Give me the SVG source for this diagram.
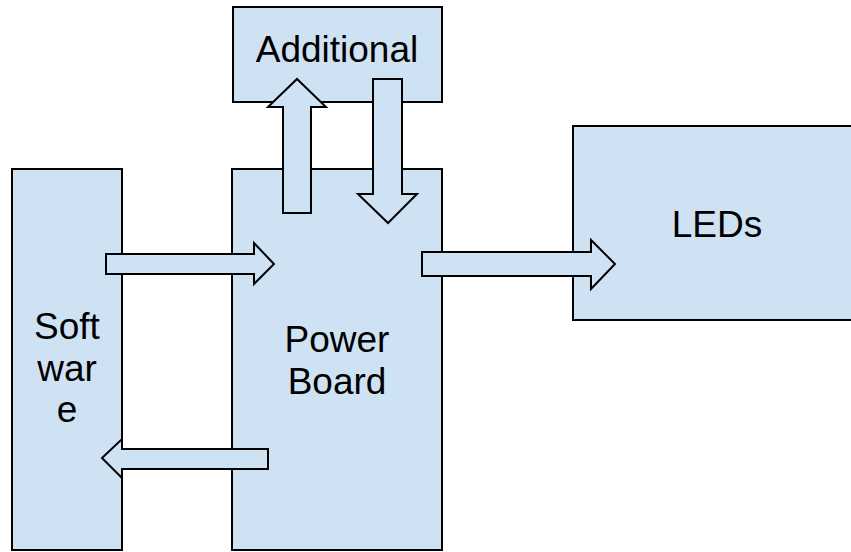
<svg xmlns="http://www.w3.org/2000/svg" width="851" height="552" viewBox="0 0 851 552">
<style>
.box{fill:#cfe2f3;stroke:#000;stroke-width:2}
.arr{fill:#cfe2f3;stroke:#000;stroke-width:2;stroke-linejoin:miter}
.lbl{font-family:"Liberation Sans",Arial,sans-serif;font-size:37px;fill:#000;text-anchor:middle}
</style>
<rect width="851" height="552" fill="#fff"/>
<g id="software">
<rect class="box" x="12" y="169" width="110" height="381"/>
<text class="lbl" x="67" y="339">Soft</text>
<text class="lbl" x="67" y="381">war</text>
<text class="lbl" x="67" y="422">e</text>
</g>
<g id="power-board">
<rect class="box" x="232" y="169" width="210" height="381"/>
<text class="lbl" x="337" y="352">Power</text>
<text class="lbl" x="337" y="394">Board</text>
</g>
<g id="additional">
<rect class="box" x="233" y="7" width="209" height="95"/>
<text class="lbl" x="337" y="62">Additional</text>
</g>
<g id="leds">
<rect class="box" x="573" y="126" width="288" height="194"/>
<text class="lbl" x="717" y="237">LEDs</text>
</g>
<g id="connectors">
<polygon class="arr" points="106,254 254,254 254,243 274,264 254,284 254,274 106,274"/>
<polygon class="arr" points="422,252 591,252 591,240 615,264 591,289 591,276 422,276"/>
<polygon class="arr" points="268,449 122,449 122,439 102,458 122,478 122,469 268,469"/>
<polygon class="arr" points="283,213 283,107 268,107 297,79 326,107 311,107 311,213"/>
<polygon class="arr" points="373,79 402,79 402,194 417,194 388,223 358,194 373,194"/>
</g>
</svg>
